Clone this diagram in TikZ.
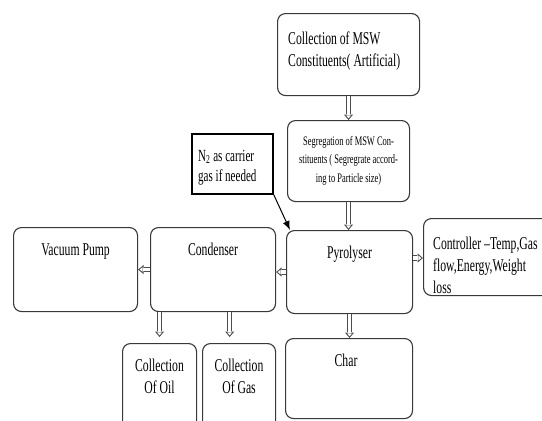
\documentclass[tikz,border=0pt]{standalone}
\usepackage{fontspec}
\setmainfont{Liberation Serif}[FakeStretch=0.65]
\usetikzlibrary{arrows.meta,calc}
\begin{document}
\begin{tikzpicture}[x=1pt,y=-1pt,
  box/.style={draw=black!78, line width=1.1pt, rounded corners=8pt, inner sep=0pt, anchor=north west},
  sharpbox/.style={draw=black, line width=1.8pt, inner sep=0pt, anchor=north west},
  txt/.style={inner sep=0pt, font=\fontsize{18}{22}\selectfont, align=center, anchor=base},
  ltxt/.style={txt, align=left, anchor=base west},
  harrow/.style={draw=black!70, line width=0.9pt, -{Triangle[open, length=5.5pt, width=9pt]},
    preaction={draw=black!70, line width=5.4pt, -, shorten >=5.6pt},
    postaction={draw=white, line width=3.6pt, -, shorten >=4.8pt}},
  parrow/.style={draw=black, line width=1pt, -{Latex[length=9pt,width=7pt]}},
]
\useasboundingbox (0,0) rectangle (542,421);

% boxes
\node[box, minimum width=142pt, minimum height=82pt] (b1) at (277,13) {};
\node[box, minimum width=122pt, minimum height=81pt] (seg) at (287,120) {};
\node[sharpbox, minimum width=81pt, minimum height=60pt] (n2) at (191,133) {};
\node[box, minimum width=126pt, minimum height=83pt] (pyro) at (286,230) {};
\node[box, minimum width=130pt, minimum height=77pt] (ctrl) at (423,218) {};
\node[box, minimum width=125pt, minimum height=84pt] (cond) at (150,227) {};
\node[box, minimum width=124pt, minimum height=84pt] (vac) at (13,227) {};
\node[box, minimum width=74pt, minimum height=90pt] (oil) at (122,343) {};
\node[box, minimum width=73pt, minimum height=90pt] (gas) at (202,343) {};
\node[box, minimum width=127pt, minimum height=80pt] (char) at (285,338) {};

% texts (base anchor = last line's baseline)
\node[ltxt] (t1) at ($(b1.north west)+(11,53)$) {Collection of MSW\\Constituents( Artificial)};
\node[txt, font=\fontsize{13}{18.5}\selectfont] (tseg) at ($(seg.north)+(0,62)$) {Segregation of MSW Con-\\stituents ( Segregrate accord-\\ing to Particle size)};
\node[ltxt, font=\fontsize{17}{20}\selectfont] (tn2) at ($(n2.north west)+(7,48)$) {N\textsubscript{2} as carrier\\gas if needed};
\node[txt] (tpyro) at ($(pyro.north)+(0,28)$) {Pyrolyser};
\node[ltxt] (tctrl) at ($(ctrl.north west)+(10,75)$) {Controller –Temp,Gas\\flow,Energy,Weight\\loss};
\node[txt] (tcond) at ($(cond.north)+(0,28)$) {Condenser};
\node[txt] (tvac) at ($(vac.north)+(0,28)$) {Vacuum Pump};
\node[txt] (toil) at ($(oil.north)+(0,50)$) {Collection\\Of Oil};
\node[txt] (tgas) at ($(gas.north)+(0,50)$) {Collection\\Of Gas};
\node[txt] (tchar) at ($(char.north)+(-3,28)$) {Char};

% connectors
\draw[harrow] (b1.south) -- (b1.south |- seg.north);
\draw[harrow] (seg.south) -- (seg.south |- pyro.north);
\draw[harrow] (pyro.south) -- (pyro.south |- char.north);
\coordinate (pc) at ($(pyro.north east)+(0,28)$);
\draw[harrow] (pc) -- (pc -| ctrl.west);
\draw[harrow] (pyro.west) -- (pyro.west -| cond.east);
\draw[harrow] (cond.west) -- (cond.west -| vac.east);
\coordinate (oq) at (oil.north |- cond.south);
\draw[harrow] (oq) -- ($(oil.north)+(0,-6)$);
\coordinate (gq) at ($(cond.south west)!0.632!(cond.south east)$);
\draw[harrow] (gq) -- ($(gq |- gas.north)+(0,-6)$);
\draw[parrow] (n2.south east) -- ($(pyro.north west)+(4,0)$);
\end{tikzpicture}
\end{document}
